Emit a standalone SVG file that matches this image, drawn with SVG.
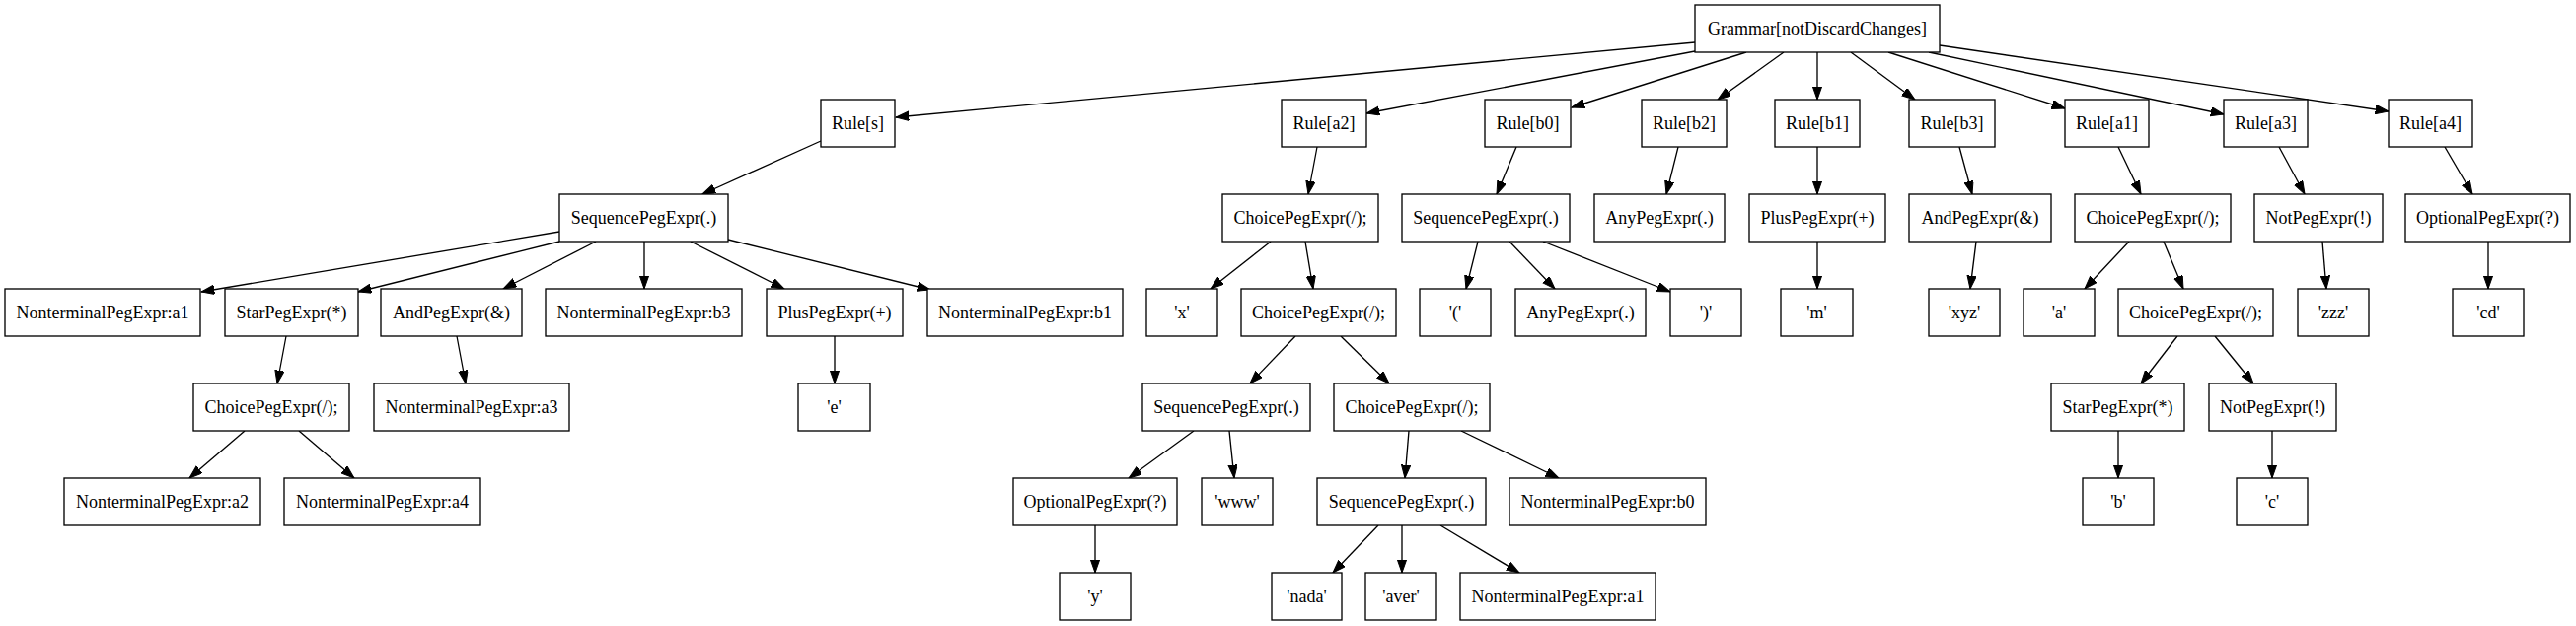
<svg xmlns="http://www.w3.org/2000/svg" width="2611" height="635" viewBox="0 0 2611 635">
<style>
.n rect{fill:#fff;stroke:#000;stroke-width:1.33}
.n text{font-family:"Liberation Serif","Times New Roman",serif;font-size:18px;text-anchor:middle;fill:#000}
.e path{fill:none;stroke:#000;stroke-width:1.33;marker-end:url(#arr)}
</style>
<defs>
<marker id="arr" markerUnits="userSpaceOnUse" markerWidth="14" markerHeight="10" refX="13.3" refY="4.67" orient="auto">
<path d="M0,0 L13.3,4.67 L0,9.33 z" fill="#000" stroke="#000" stroke-width="1"/>
</marker>
</defs>
<rect width="2611" height="635" fill="#fff"/>
<g id="connectors" class="e">
<path d="M1718,43 L908,119"/>
<path d="M1718,52 L1385,115"/>
<path d="M1770,53 L1593,109"/>
<path d="M1808,53 L1741,101"/>
<path d="M1842,53 L1842,101"/>
<path d="M1876,53 L1941,101"/>
<path d="M1914,53 L2093,110"/>
<path d="M1955,53 L2254,116"/>
<path d="M1966,46 L2421,113"/>
<path d="M832,143 L712,197"/>
<path d="M1335,149 L1326,197"/>
<path d="M1537,149 L1517,197"/>
<path d="M1701,149 L1689,197"/>
<path d="M1842,149 L1842,197"/>
<path d="M1986,149 L1999,197"/>
<path d="M2147,149 L2170,197"/>
<path d="M2310,149 L2336,197"/>
<path d="M2478,149 L2506,197"/>
<path d="M567,235 L204,296"/>
<path d="M567,245 L363,296"/>
<path d="M604,245 L510,293"/>
<path d="M653,245 L653,293"/>
<path d="M700,245 L795,293"/>
<path d="M738,243 L943,294"/>
<path d="M1288,245 L1227,293"/>
<path d="M1323,245 L1331,293"/>
<path d="M1498,245 L1486,293"/>
<path d="M1530,245 L1576,293"/>
<path d="M1564,245 L1693,296"/>
<path d="M1842,245 L1842,293"/>
<path d="M2003,245 L1997,293"/>
<path d="M2158,245 L2113,293"/>
<path d="M2193,245 L2213,293"/>
<path d="M2354,245 L2358,293"/>
<path d="M2522,245 L2522,293"/>
<path d="M290,341 L281,389"/>
<path d="M463,341 L472,389"/>
<path d="M846,341 L846,389"/>
<path d="M1313,341 L1267,389"/>
<path d="M1359,341 L1408,389"/>
<path d="M2207,341 L2170,389"/>
<path d="M2245,341 L2284,389"/>
<path d="M248,437 L192,485"/>
<path d="M303,437 L359,485"/>
<path d="M1210,437 L1144,485"/>
<path d="M1246,437 L1251,485"/>
<path d="M1428,437 L1424,485"/>
<path d="M1481,437 L1580,485"/>
<path d="M2147,437 L2147,485"/>
<path d="M2303,437 L2303,485"/>
<path d="M1110,533 L1110,581"/>
<path d="M1397,533 L1351,581"/>
<path d="M1421,533 L1421,581"/>
<path d="M1460,533 L1540,581"/>
</g>
<g id="g" class="n"><rect x="1718" y="5" width="248" height="48"/><text x="1842" y="35">Grammar[notDiscardChanges]</text></g>
<g id="rs" class="n"><rect x="832" y="101" width="75" height="48"/><text x="869.5" y="131">Rule[s]</text></g>
<g id="ra2" class="n"><rect x="1299" y="101" width="86" height="48"/><text x="1342" y="131">Rule[a2]</text></g>
<g id="rb0" class="n"><rect x="1505" y="101" width="87" height="48"/><text x="1548.5" y="131">Rule[b0]</text></g>
<g id="rb2" class="n"><rect x="1664" y="101" width="86" height="48"/><text x="1707" y="131">Rule[b2]</text></g>
<g id="rb1" class="n"><rect x="1799" y="101" width="86" height="48"/><text x="1842" y="131">Rule[b1]</text></g>
<g id="rb3" class="n"><rect x="1935" y="101" width="87" height="48"/><text x="1978.5" y="131">Rule[b3]</text></g>
<g id="ra1" class="n"><rect x="2093" y="101" width="85" height="48"/><text x="2135.5" y="131">Rule[a1]</text></g>
<g id="ra3" class="n"><rect x="2254" y="101" width="85" height="48"/><text x="2296.5" y="131">Rule[a3]</text></g>
<g id="ra4" class="n"><rect x="2421" y="101" width="85" height="48"/><text x="2463.5" y="131">Rule[a4]</text></g>
<g id="s_seq" class="n"><rect x="567" y="197" width="171" height="48"/><text x="652.5" y="227">SequencePegExpr(.)</text></g>
<g id="a2_ch" class="n"><rect x="1239" y="197" width="158" height="48"/><text x="1318" y="227">ChoicePegExpr(/);</text></g>
<g id="b0_seq" class="n"><rect x="1421" y="197" width="170" height="48"/><text x="1506" y="227">SequencePegExpr(.)</text></g>
<g id="b2_any" class="n"><rect x="1616" y="197" width="132" height="48"/><text x="1682" y="227">AnyPegExpr(.)</text></g>
<g id="b1_plus" class="n"><rect x="1773" y="197" width="138" height="48"/><text x="1842" y="227">PlusPegExpr(+)</text></g>
<g id="b3_and" class="n"><rect x="1935" y="197" width="144" height="48"/><text x="2007" y="227">AndPegExpr(&amp;)</text></g>
<g id="a1_ch" class="n"><rect x="2103" y="197" width="158" height="48"/><text x="2182" y="227">ChoicePegExpr(/);</text></g>
<g id="a3_not" class="n"><rect x="2285" y="197" width="130" height="48"/><text x="2350" y="227">NotPegExpr(!)</text></g>
<g id="a4_opt" class="n"><rect x="2438" y="197" width="167" height="48"/><text x="2521.5" y="227">OptionalPegExpr(?)</text></g>
<g id="s_a1" class="n"><rect x="5" y="293" width="198" height="48"/><text x="104" y="323">NonterminalPegExpr:a1</text></g>
<g id="s_star" class="n"><rect x="228" y="293" width="135" height="48"/><text x="295.5" y="323">StarPegExpr(*)</text></g>
<g id="s_and" class="n"><rect x="386" y="293" width="143" height="48"/><text x="457.5" y="323">AndPegExpr(&amp;)</text></g>
<g id="s_b3" class="n"><rect x="553" y="293" width="199" height="48"/><text x="652.5" y="323">NonterminalPegExpr:b3</text></g>
<g id="s_plus" class="n"><rect x="777" y="293" width="138" height="48"/><text x="846" y="323">PlusPegExpr(+)</text></g>
<g id="s_b1" class="n"><rect x="940" y="293" width="198" height="48"/><text x="1039" y="323">NonterminalPegExpr:b1</text></g>
<g id="a2_x" class="n"><rect x="1162" y="293" width="72" height="48"/><text x="1198" y="323">'x'</text></g>
<g id="a2_ch2" class="n"><rect x="1258" y="293" width="157" height="48"/><text x="1336.5" y="323">ChoicePegExpr(/);</text></g>
<g id="b0_lp" class="n"><rect x="1439" y="293" width="72" height="48"/><text x="1475" y="323">'('</text></g>
<g id="b0_any" class="n"><rect x="1536" y="293" width="132" height="48"/><text x="1602" y="323">AnyPegExpr(.)</text></g>
<g id="b0_rp" class="n"><rect x="1693" y="293" width="72" height="48"/><text x="1729" y="323">')'</text></g>
<g id="b1_m" class="n"><rect x="1805" y="293" width="73" height="48"/><text x="1841.5" y="323">'m'</text></g>
<g id="b3_xyz" class="n"><rect x="1955" y="293" width="72" height="48"/><text x="1991" y="323">'xyz'</text></g>
<g id="a1_a" class="n"><rect x="2051" y="293" width="72" height="48"/><text x="2087" y="323">'a'</text></g>
<g id="a1_ch2" class="n"><rect x="2147" y="293" width="157" height="48"/><text x="2225.5" y="323">ChoicePegExpr(/);</text></g>
<g id="a3_zzz" class="n"><rect x="2329" y="293" width="72" height="48"/><text x="2365" y="323">'zzz'</text></g>
<g id="a4_cd" class="n"><rect x="2486" y="293" width="72" height="48"/><text x="2522" y="323">'cd'</text></g>
<g id="s_ch" class="n"><rect x="196" y="389" width="158" height="48"/><text x="275" y="419">ChoicePegExpr(/);</text></g>
<g id="s_a3" class="n"><rect x="379" y="389" width="198" height="48"/><text x="478" y="419">NonterminalPegExpr:a3</text></g>
<g id="s_e" class="n"><rect x="809" y="389" width="73" height="48"/><text x="845.5" y="419">'e'</text></g>
<g id="a2_seq" class="n"><rect x="1158" y="389" width="170" height="48"/><text x="1243" y="419">SequencePegExpr(.)</text></g>
<g id="a2_ch3" class="n"><rect x="1352" y="389" width="158" height="48"/><text x="1431" y="419">ChoicePegExpr(/);</text></g>
<g id="a1_star" class="n"><rect x="2079" y="389" width="135" height="48"/><text x="2146.5" y="419">StarPegExpr(*)</text></g>
<g id="a1_not" class="n"><rect x="2239" y="389" width="129" height="48"/><text x="2303.5" y="419">NotPegExpr(!)</text></g>
<g id="s_a2" class="n"><rect x="65" y="485" width="199" height="48"/><text x="164.5" y="515">NonterminalPegExpr:a2</text></g>
<g id="s_a4" class="n"><rect x="288" y="485" width="199" height="48"/><text x="387.5" y="515">NonterminalPegExpr:a4</text></g>
<g id="a2_opt" class="n"><rect x="1027" y="485" width="166" height="48"/><text x="1110" y="515">OptionalPegExpr(?)</text></g>
<g id="a2_www" class="n"><rect x="1218" y="485" width="72" height="48"/><text x="1254" y="515">'www'</text></g>
<g id="a2_seq2" class="n"><rect x="1335" y="485" width="171" height="48"/><text x="1420.5" y="515">SequencePegExpr(.)</text></g>
<g id="a2_b0" class="n"><rect x="1530" y="485" width="199" height="48"/><text x="1629.5" y="515">NonterminalPegExpr:b0</text></g>
<g id="a1_b" class="n"><rect x="2111" y="485" width="72" height="48"/><text x="2147" y="515">'b'</text></g>
<g id="a1_c" class="n"><rect x="2267" y="485" width="72" height="48"/><text x="2303" y="515">'c'</text></g>
<g id="a2_y" class="n"><rect x="1074" y="581" width="72" height="48"/><text x="1110" y="611">'y'</text></g>
<g id="a2_nada" class="n"><rect x="1289" y="581" width="71" height="48"/><text x="1324.5" y="611">'nada'</text></g>
<g id="a2_aver" class="n"><rect x="1384" y="581" width="72" height="48"/><text x="1420" y="611">'aver'</text></g>
<g id="a2_a1" class="n"><rect x="1480" y="581" width="198" height="48"/><text x="1579" y="611">NonterminalPegExpr:a1</text></g>
</svg>
